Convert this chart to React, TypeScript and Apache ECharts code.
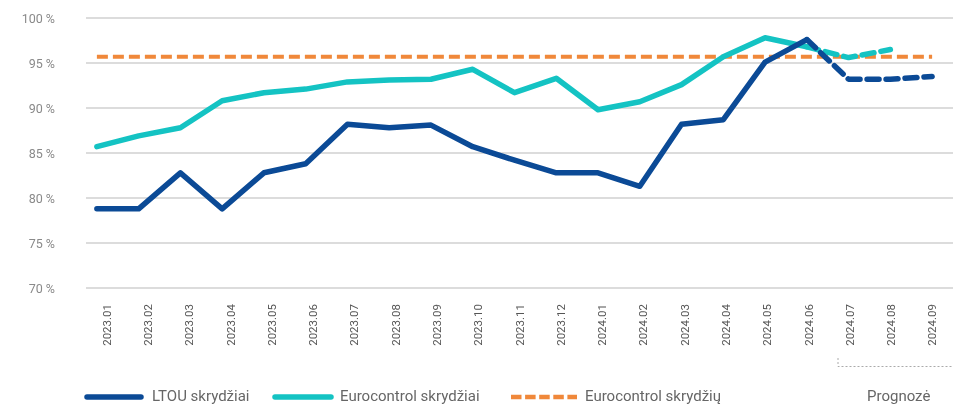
import React, { useEffect, useRef } from "react";
import * as echarts from "echarts";

const categories = [
  "2023.01", "2023.02", "2023.03", "2023.04", "2023.05", "2023.06", "2023.07",
  "2023.08", "2023.09", "2023.10", "2023.11", "2023.12", "2024.01", "2024.02",
  "2024.03", "2024.04", "2024.05", "2024.06", "2024.07", "2024.08", "2024.09",
];

const ltouActual = [
  78.8, 78.8, 82.8, 78.8, 82.8, 83.8, 88.2, 87.8, 88.1, 85.7, 84.2, 82.8,
  82.8, 81.3, 88.2, 88.7, 95.1, 97.6, null, null, null,
];
const ltouForecast = [
  null, null, null, null, null, null, null, null, null, null, null, null,
  null, null, null, null, null, 97.6, 93.2, 93.2, 93.5,
];
const euroActual = [
  85.7, 86.9, 87.8, 90.8, 91.7, 92.1, 92.9, 93.1, 93.2, 94.3, 91.7, 93.3,
  89.8, 90.7, 92.6, 95.7, 97.8, 96.8, null, null, null,
];
const euroForecast = [
  null, null, null, null, null, null, null, null, null, null, null, null,
  null, null, null, null, null, 96.8, 95.6, 96.5, null,
];
const euroTarget = [
  95.7, 95.7, 95.7, 95.7, 95.7, 95.7, 95.7, 95.7, 95.7, 95.7, 95.7, 95.7,
  95.7, 95.7, 95.7, 95.7, 95.7, 95.7, 95.7, 95.7, 95.7,
];

const legendNames = ["LTOU skrydžiai", "Eurocontrol skrydžiai", "Eurocontrol skrydžių"];
const forecastLabel = "Prognozė";

const DARK = "#0b4a96";
const CYAN = "#14c3c3";
const ORANGE = "#f0883a";
const FONT = "Roboto, 'Liberation Sans', sans-serif";
const LEG_Y = 397;
const LEG_TEXT_Y = 396;

export default function App() {
  const ref = useRef<HTMLDivElement>(null);
  useEffect(() => {
    if (!ref.current) return;
    const chart = echarts.init(ref.current, null, { renderer: "svg" });
    const legText = (x: number, text: string) => ({
      type: "text",
      x,
      y: LEG_TEXT_Y,
      style: {
        text,
        fill: "#666",
        fontSize: 15,
        fontFamily: FONT,
        verticalAlign: "middle",
        align: "left",
      },
    });
    chart.setOption({
      animation: false,
      textStyle: { fontFamily: FONT },
      grid: [
        { left: 76, right: -8, top: 18, bottom: 117 },
        { left: 86, right: 0, top: 18, bottom: 117 },
      ],
      xAxis: [
        {
          type: "category",
          gridIndex: 0,
          data: categories,
          boundaryGap: true,
          axisLine: { show: false },
          axisTick: { show: false },
          axisLabel: { show: false },
        },
        {
          type: "category",
          gridIndex: 1,
          data: categories,
          boundaryGap: true,
          axisLine: { show: false },
          axisTick: { show: false },
          axisLabel: {
            rotate: 90,
            margin: 16,
            color: "#555",
            fontSize: 11.5,
            fontFamily: FONT,
            interval: 0,
            padding: [22, 0, 0, 0],
          },
        },
      ],
      yAxis: [
        {
          type: "value",
          gridIndex: 0,
          min: 70,
          max: 100,
          interval: 5,
          axisLine: { show: false },
          axisTick: { show: false },
          axisLabel: { show: false },
          splitLine: { show: false },
        },
        {
          type: "value",
          gridIndex: 1,
          min: 70,
          max: 100,
          interval: 5,
          axisLine: { show: false },
          axisTick: { show: false },
          splitLine: { lineStyle: { color: "#d0d0d0", width: 1.5 } },
          axisLabel: {
            formatter: (v: number) => `${v} %`,
            color: "#8a8a8a",
            fontSize: 12.5,
            fontFamily: FONT,
            margin: 31,
          },
        },
      ],
      series: [
        {
          name: legendNames[2],
          type: "line",
          data: euroTarget,
          symbol: "none",
          z: 3,
          lineStyle: { color: ORANGE, width: 4, type: [11, 5] },
        },
        {
          name: legendNames[1],
          type: "line",
          data: euroActual,
          symbol: "none",
          z: 4,
          lineStyle: { color: CYAN, width: 5.5, cap: "round", join: "round" },
        },
        {
          name: "Eurocontrol prognozė",
          type: "line",
          data: euroForecast,
          symbol: "none",
          z: 4,
          lineStyle: { color: CYAN, width: 5.5, type: [12, 7], cap: "round" },
        },
        {
          name: legendNames[0],
          type: "line",
          data: ltouActual,
          symbol: "none",
          z: 5,
          lineStyle: { color: DARK, width: 5.5, cap: "round", join: "round" },
        },
        {
          name: "LTOU prognozė",
          type: "line",
          data: ltouForecast,
          symbol: "none",
          z: 5,
          lineStyle: { color: DARK, width: 5.5, type: [12, 7], cap: "round" },
        },
      ],
      graphic: [
        {
          type: "line",
          shape: { x1: 87, y1: LEG_Y, x2: 141, y2: LEG_Y },
          style: { stroke: DARK, lineWidth: 5.5, lineCap: "round" },
        },
        legText(152, legendNames[0]),
        {
          type: "line",
          shape: { x1: 275, y1: LEG_Y, x2: 331, y2: LEG_Y },
          style: { stroke: CYAN, lineWidth: 5.5, lineCap: "round" },
        },
        legText(340, legendNames[1]),
        {
          type: "line",
          shape: { x1: 511, y1: LEG_Y, x2: 577, y2: LEG_Y },
          style: { stroke: ORANGE, lineWidth: 4.5, lineDash: [10.5, 3.6], lineCap: "butt" },
        },
        legText(585, legendNames[2]),
        {
          type: "polyline",
          shape: { points: [[838, 358], [838, 366.5], [953, 366.5]] },
          style: { stroke: "#aaa", lineWidth: 1, lineDash: [2, 2], fill: null },
        },
        legText(867, forecastLabel),
      ],
    });
    return () => chart.dispose();
  }, []);
  return (
    <div
      ref={ref}
      style={{ position: "fixed", left: 0, top: 0, width: 953, height: 405 }}
    />
  );
}
